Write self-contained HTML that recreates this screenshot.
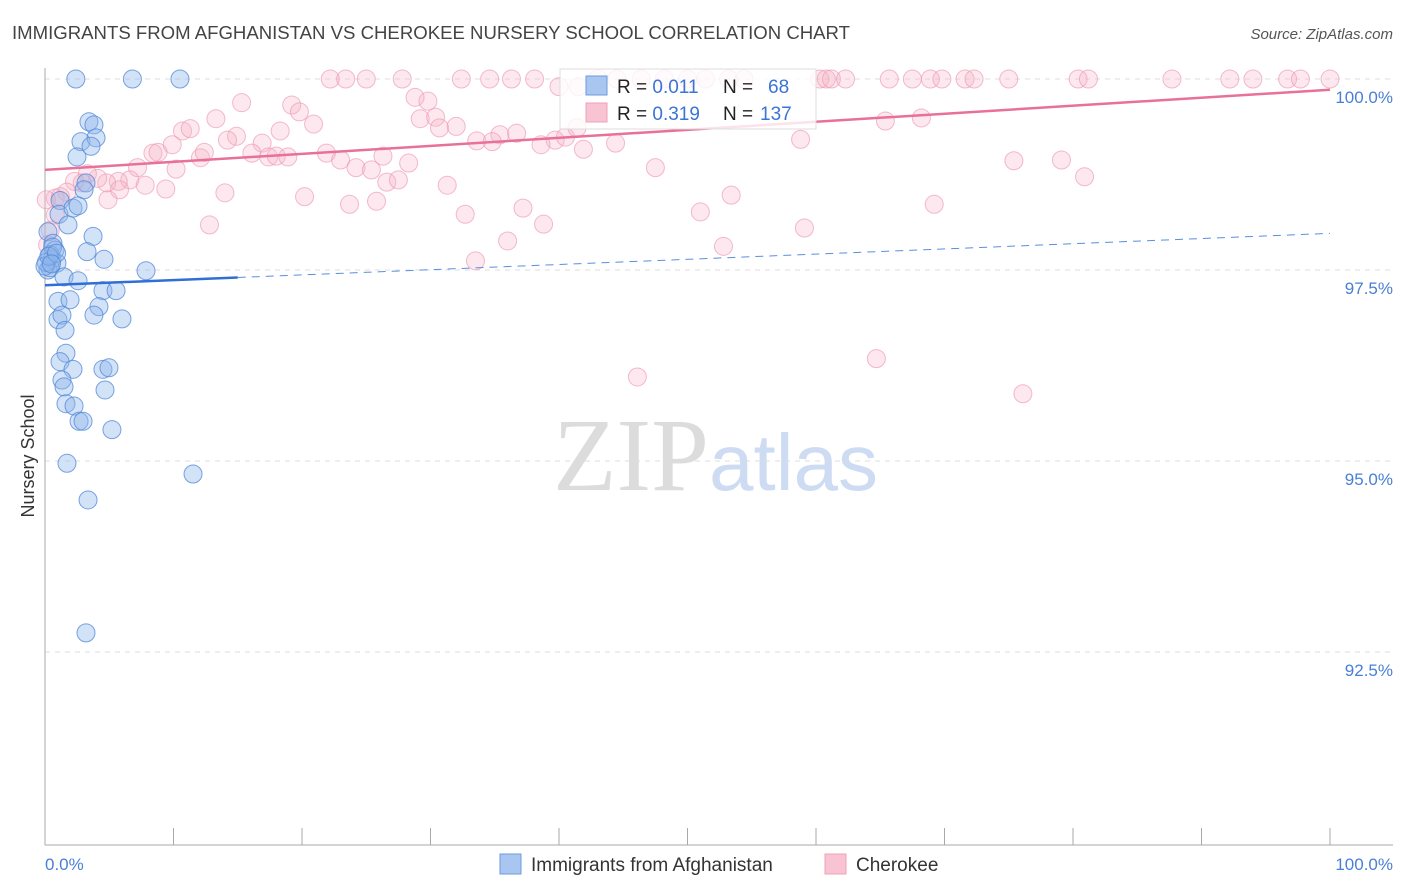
<!DOCTYPE html>
<html><head><meta charset="utf-8"><style>
body{margin:0;background:#fff;font-family:"Liberation Sans",sans-serif}
svg{display:block}
</style></head><body>
<svg id="chart" width="1406" height="892" xmlns="http://www.w3.org/2000/svg">
<text x="12" y="39" font-size="18.6" fill="#444" textLength="838" lengthAdjust="spacingAndGlyphs">IMMIGRANTS FROM AFGHANISTAN VS CHEROKEE NURSERY SCHOOL CORRELATION CHART</text>
<text x="1393" y="39" font-size="15" fill="#555" font-style="italic" text-anchor="end">Source: ZipAtlas.com</text>
<text x="553" y="490" font-size="104" font-family="Liberation Serif,serif" fill="#dcdcdc">ZIP<tspan fill="#cddcf2" font-family="Liberation Sans,sans-serif" font-size="80">atlas</tspan></text>
<g id="grid"></g>
<g id="pts"></g>
<g id="trends"></g>
<text transform="translate(34,456) rotate(-90)" font-size="18" fill="#333" text-anchor="middle">Nursery School</text>
<g>
<rect x="560" y="69" width="256" height="60" fill="#fff" fill-opacity="0.8" stroke="#ddd"/>
<rect x="586" y="76" width="21" height="19" fill="#a9c6f0" stroke="#6b9be0"/>
<rect x="586" y="103" width="21" height="19" fill="#f8c3d3" stroke="#f0a0b8"/>
<text x="617" y="93" font-size="19" fill="#222">R = <tspan fill="#3a74d6">0.011</tspan><tspan x="723">N = </tspan><tspan x="768" fill="#3a74d6">68</tspan></text>
<text x="617" y="120" font-size="19" fill="#222">R = <tspan fill="#3a74d6">0.319</tspan><tspan x="723">N = </tspan><tspan x="760" fill="#3a74d6">137</tspan></text>
</g>
<g>
<rect x="500" y="854" width="21" height="20" fill="#a9c6f0" stroke="#6b9be0"/>
<text x="531" y="871" font-size="19" fill="#333">Immigrants from Afghanistan</text>
<rect x="825" y="854" width="21" height="20" fill="#f8c3d3" stroke="#f0a0b8"/>
<text x="856" y="871" font-size="19" fill="#333">Cherokee</text>
</g>
</svg>
<script>
const yTicks=[100,97.5,95,92.5];
const yTickLabels=["100.0%","97.5%","95.0%","92.5%"];
const xTicks=[10,20,30,40,50,60,70,80,90,100];
const blueX=[2.4,6.8,10.5,3.42,3.81,2.80,3.97,3.58,2.49,3.19,3.04,1.17,1.09,2.18,2.57,1.79,3.74,0.23,0.62,0.78,0.54,0.93,3.27,4.59,7.86,0.23,0.39,1.48,2.57,4.51,5.53,1.01,1.95,4.20,3.81,5.99,1.01,1.32,1.56,1.63,1.17,2.18,4.51,4.98,1.32,1.48,4.67,1.63,2.26,2.65,2.96,5.21,1.71,11.52,3.35,3.19,0.4,0.1,0.6,0.0,0.3,0.9,0.5];
const blueY=[100,100,100,99.44,99.40,99.18,99.23,99.12,98.98,98.64,98.55,98.41,98.23,98.31,98.34,98.09,97.94,98.00,97.85,97.76,97.64,97.59,97.74,97.64,97.49,97.50,97.53,97.41,97.36,97.23,97.23,97.09,97.11,97.02,96.91,96.86,96.85,96.91,96.71,96.41,96.30,96.20,96.20,96.22,96.06,95.97,95.93,95.75,95.72,95.52,95.52,95.41,94.97,94.83,94.49,92.75,97.70,97.60,97.80,97.55,97.68,97.72,97.58];
const pinkX=[22.2,23.4,25.0,27.8,32.4,34.6,36.3,38.1,43.0,44.5,46.4,48.2,50.0,51.4,53.2,54.4,60.3,60.8,61.2,62.3,65.7,67.5,68.9,69.8,71.6,72.3,75.0,80.4,81.2,87.7,92.2,94.0,96.7,97.7,100,40.0,41.5,
15.3,19.2,28.8,29.8,13.3,19.8,20.9,29.2,30.4,30.7,32.0,35.4,36.7,33.6,34.8,39.7,40.5,41.4,44.4,41.9,38.6,10.7,11.3,14.9,16.9,18.3,14.2,12.1,9.9,8.4,8.8,12.4,16.1,17.4,18.0,18.9,21.9,23.0,26.3,28.3,24.2,25.4,26.6,27.5,10.2,7.2,6.6,5.7,4.8,4.1,3.3,2.9,2.3,1.7,0.8,1.2,7.8,9.4,4.9,5.8,14.0,20.2,31.3,12.8,23.7,25.8,32.7,37.2,38.8,36.0,33.5,51.0,53.4,52.8,59.1,69.2,58.8,65.4,68.2,75.4,79.1,80.9,47.5,46.1,64.7,76.1,0.4,0.2,0.8,0.1];
const pinkY=[100,100,100,100,100,100,100,100,100,100,100,100,100,100,100,100,100,100,100,100,100,100,100,100,100,100,100,100,100,100,100,100,100,100,100,99.9,99.9,
99.69,99.66,99.76,99.71,99.48,99.57,99.41,99.48,99.50,99.36,99.38,99.27,99.29,99.19,99.18,99.20,99.24,99.36,99.16,99.08,99.14,99.32,99.35,99.25,99.16,99.32,99.20,98.97,99.14,99.03,99.04,99.04,99.03,98.98,98.99,98.98,99.03,98.94,98.99,98.90,98.84,98.81,98.65,98.68,98.82,98.84,98.68,98.66,98.64,98.70,98.76,98.64,98.66,98.52,98.44,98.46,98.61,98.56,98.42,98.55,98.51,98.46,98.61,98.09,98.36,98.40,98.23,98.31,98.10,97.88,97.62,98.26,98.48,97.81,98.05,98.36,99.21,99.45,99.49,98.93,98.94,98.72,98.84,96.10,96.34,95.88,98.02,97.83,98.22,98.42];
const blueTrend=[97.30,97.98];
const blueSolidEnd=15;
const pinkTrend=[98.81,99.86];
const NS="http://www.w3.org/2000/svg";
const X=v=>45+v*12.85;
const Y=v=>79+(100-v)*76.4;
function mk(tag,attrs,parent){const e=document.createElementNS(NS,tag);for(const k in attrs)e.setAttribute(k,attrs[k]);parent.appendChild(e);return e;}
const grid=document.getElementById('grid');
yTicks.forEach((t,i)=>{
  const l=mk('line',{x1:45,x2:1393,y1:Y(t),y2:Y(t),stroke:'#ddd','stroke-dasharray':'5,5'},grid);
  
  
  const tx=mk('text',{x:1393,y:Y(t)+24,'font-size':17,fill:'#4a7fd6','text-anchor':'end'},grid);
  tx.textContent=yTickLabels[i];
  
  
});
const ax=mk('line',{x1:45,x2:45,y1:68,y2:845,stroke:'#aaa'},grid);


const bx=mk('line',{x1:45,x2:1393,y1:845,y2:845,stroke:'#aaa'},grid);


xTicks.forEach(t=>{
  const l=mk('line',{x1:X(t),x2:X(t),y1:828,y2:845,stroke:'#aaa'},grid);
  
  
});
const xl0=mk('text',{x:45,y:870,'font-size':17,fill:'#4a7fd6'},grid);xl0.textContent='0.0%';


const xl1=mk('text',{x:1393,y:870,'font-size':17,fill:'#4a7fd6','text-anchor':'end'},grid);xl1.textContent='100.0%';


const pts=document.getElementById('pts');
pinkX.forEach((x,i)=>{
  const c=mk('circle',{cx:X(x),cy:Y(pinkY[i]),r:9,fill:'#f6b3c8','fill-opacity':0.3,stroke:'#ee97b2','stroke-opacity':0.65},pts);
  
  
});
blueX.forEach((x,i)=>{
  const c=mk('circle',{cx:X(x),cy:Y(blueY[i]),r:9,fill:'#8fb6ec','fill-opacity':0.4,stroke:'#4f86d8','stroke-opacity':0.75},pts);
  
  
});
const tr=document.getElementById('trends');
const bv=x=>blueTrend[0]+(blueTrend[1]-blueTrend[0])*x/100;
const b1=mk('line',{x1:X(0),y1:Y(bv(0)),x2:X(blueSolidEnd),y2:Y(bv(blueSolidEnd)),stroke:'#2f6fd6','stroke-width':2.5},tr);


const b2=mk('line',{x1:X(blueSolidEnd),y1:Y(bv(blueSolidEnd)),x2:X(100),y2:Y(bv(100)),stroke:'#5a8ee0','stroke-width':1,'stroke-dasharray':'8,6'},tr);


const p1=mk('line',{x1:X(0),y1:Y(pinkTrend[0]),x2:X(100),y2:Y(pinkTrend[1]),stroke:'#e8709a','stroke-width':2.5},tr);


</script>
</body></html>
